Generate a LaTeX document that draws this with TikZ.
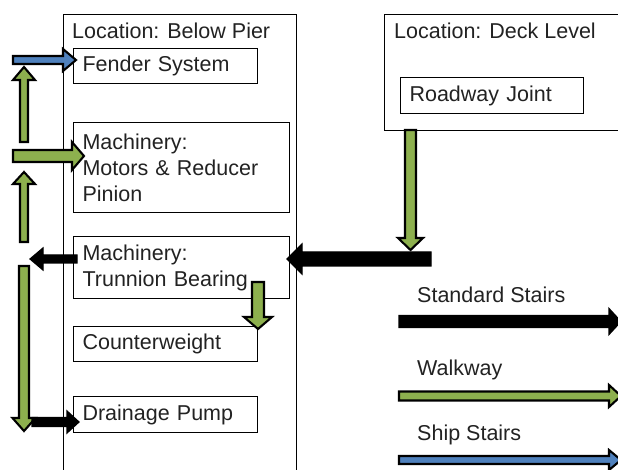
\documentclass[tikz,border=0pt]{standalone}
\usepackage{fontspec}
\setmainfont{Liberation Sans}
\usetikzlibrary{calc}
\definecolor{arrowgreen}{HTML}{8DB04E}
\definecolor{arrowblue}{HTML}{4F81BD}
\definecolor{txt}{HTML}{222222}
% block arrow: #1 style, #2 start, #3 tip, #4 half shaft, #5 half head, #6 head length
\newcommand{\blockarrow}[6]{%
  \coordinate (ba-c) at ($(#3)!#6!(#2)$);
  \draw[#1] ($(#2)!#4!90:(#3)$) -- ($(ba-c)!#4!90:(#3)$) -- ($(ba-c)!#5!90:(#3)$)
    -- (#3) -- ($(ba-c)!#5!-90:(#3)$) -- ($(ba-c)!#4!-90:(#3)$) -- ($(#2)!#4!-90:(#3)$) -- cycle;
}
\begin{document}
\begin{tikzpicture}[x=1pt,y=-1pt,
  font=\fontsize{21.5}{26}\selectfont, text=txt,
  frame/.style={draw, line width=1.1pt, anchor=north west, inner sep=0pt},
  box/.style={draw, line width=1.1pt, anchor=north west, inner xsep=9pt, inner ysep=0pt, align=left},
  lbl/.style={anchor=base west, inner sep=0pt},
  greenarrow/.style={draw=black, fill=arrowgreen, line width=2.1pt, line join=miter},
  bluearrow/.style={draw=black, fill=arrowblue, line width=2.1pt, line join=miter},
  blackarrow/.style={draw=black, fill=black, line width=1.2pt, line join=miter}]
\useasboundingbox (0,0) rectangle (618,470);

% location frames
\node[frame, minimum width=233pt, minimum height=475pt] (pier) at (63,14) {};
\node[lbl] (pierT) at (72,39) {Location: Below Pier};
\node[frame, minimum width=240pt, minimum height=116pt] (deck) at (384,14) {};
\node[lbl] (deckT) at (394,39) {Location: Deck Level};

% components
\node[box, minimum width=184pt, text width=166pt, minimum height=35pt] (fender) at (73,48) {Fender System};
\node[box, minimum width=216pt, text width=198pt, minimum height=90pt] (motors) at (73,122) {Machinery:\\Motors \& Reducer\\Pinion};
\node[box, minimum width=216pt, text width=198pt, minimum height=62pt] (trunnion) at (73,236) {Machinery:\\Trunnion Bearing};
\node[box, minimum width=184pt, text width=166pt, minimum height=35pt] (cw) at (73,326) {Counterweight};
\node[box, minimum width=184pt, text width=166pt, minimum height=36pt] (drain) at (73,396) {Drainage Pump};
\node[box, minimum width=183pt, text width=165pt, minimum height=36pt] (road) at (400,77) {Roadway Joint};

% legend labels
\node[lbl] (lgStd) at (417,302) {Standard Stairs};
\node[lbl] (lgWalk) at (417,375) {Walkway};
\node[lbl] (lgShip) at (417,440) {Ship Stairs};

% connector end points
\coordinate (fs1) at (13,60);   \coordinate (fs2) at (76,60);
\coordinate (u1a) at (24,142);  \coordinate (u1b) at (24,67);
\coordinate (m1) at (13,156);   \coordinate (m2) at (84,156);
\coordinate (u2a) at (24,242);  \coordinate (u2b) at (24,172);
\coordinate (t1) at (77,259);   \coordinate (t2) at (30,259);
\coordinate (d1) at (24,266);   \coordinate (d2) at (24,431);
\coordinate (p1) at (32,422);   \coordinate (p2) at (79,422);
\coordinate (c1) at (258,282);  \coordinate (c2) at (258,329);
\coordinate (r1) at (410.5,130); \coordinate (r2) at (410.5,250);
\coordinate (k1) at (431,259);  \coordinate (k2) at (287,259);
\coordinate (ls1) at (399,321.5); \coordinate (ls2) at (621,321.5);
\coordinate (lw1) at (399,396); \coordinate (lw2) at (621,396);
\coordinate (lb1) at (399,460); \coordinate (lb2) at (621,460);

% connectors
\blockarrow{bluearrow}{fs1}{fs2}{4pt}{11pt}{13pt}
\blockarrow{greenarrow}{u1a}{u1b}{4pt}{11pt}{13pt}
\blockarrow{greenarrow}{m1}{m2}{6pt}{14pt}{12pt}
\blockarrow{greenarrow}{u2a}{u2b}{4pt}{11pt}{12pt}
\blockarrow{blackarrow}{t1}{t2}{4pt}{11pt}{13pt}
\blockarrow{greenarrow}{d1}{d2}{5pt}{11.5pt}{13pt}
\blockarrow{blackarrow}{p1}{p2}{4.5pt}{11pt}{12pt}
\blockarrow{greenarrow}{c1}{c2}{6pt}{14pt}{12pt}
\blockarrow{greenarrow}{r1}{r2}{5.5pt}{12.5pt}{12pt}
\blockarrow{blackarrow}{k1}{k2}{7pt}{15pt}{15pt}
\blockarrow{blackarrow}{ls1}{ls2}{6pt}{13pt}{12pt}
\blockarrow{greenarrow}{lw1}{lw2}{4.5pt}{11pt}{12pt}
\blockarrow{bluearrow}{lb1}{lb2}{4pt}{10pt}{12pt}
\end{tikzpicture}
\end{document}
